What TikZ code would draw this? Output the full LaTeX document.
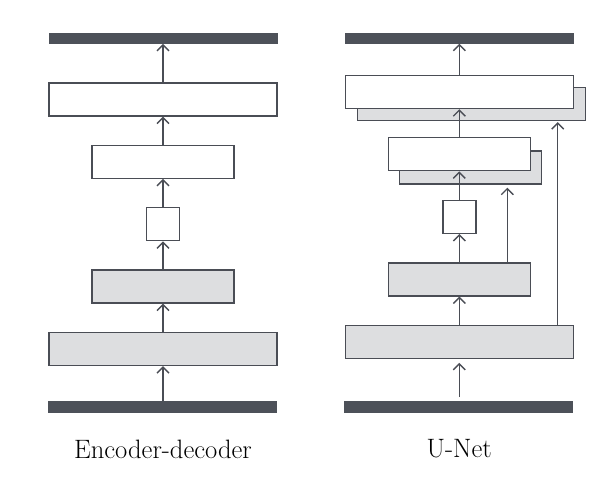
\documentclass[tikz,border=0pt]{standalone}
\usetikzlibrary{arrows.meta}
\definecolor{barcol}{HTML}{4D5159}
\definecolor{linecol}{HTML}{4A4D55}
\definecolor{grayfill}{HTML}{DDDEE0}
\begin{document}
\begin{tikzpicture}[x=1pt,y=-1pt,
  blk/.style={draw=linecol,line width=1.4pt,inner sep=0pt,minimum height=33pt},
  wide/.style={blk,minimum width=228pt},
  mid/.style={blk,minimum width=142pt},
  small/.style={blk,minimum width=33pt},
  wh/.style={fill=white},
  gr/.style={fill=grayfill},
  bar/.style={fill=barcol,draw=barcol,line width=0.5pt,inner sep=0pt,minimum width=228pt,minimum height=10.5pt},
  arr/.style={draw=linecol,line width=1.4pt,-{Straight Barb[length=6pt,width=12pt,line width=1.4pt]}},
  lab/.style={font=\fontsize{26.6}{32}\selectfont,text=black}]
\useasboundingbox (0,0) rectangle (605,480);
% ---------- Encoder-decoder ----------
\node[bar] (tbL) at (163,38.3) {};
\node[wide,wh] (L5) at (163,99.4) {};
\node[mid,wh] (L4) at (163,161.7) {};
\node[small,wh] (L3) at (163,224.2) {};
\node[mid,gr] (L2) at (163,286.4) {};
\node[wide,gr] (L1) at (163,349) {};
\node[bar] (bbL) at (162.5,406.7) {};
\draw[arr] (bbL.north -| L1) -- (L1.south);
\draw[arr] (L1.north) -- (L2.south);
\draw[arr] (L2.north) -- (L3.south);
\draw[arr] (L3.north) -- (L4.south);
\draw[arr] (L4.north) -- (L5.south);
\draw[arr] (L5.north) -- (tbL.south);
\node[lab] (labL) at (163,449) {Encoder-decoder};
% ---------- U-Net ----------
\node[bar] (tbR) at (459.3,38.3) {};
\node[wide,gr] (R5s) at (471.5,104) {};
\node[wide,wh] (R5) at (459.3,92) {};
\node[mid,gr] (R4s) at (470.6,167.5) {};
\node[mid,wh] (R4) at (459.3,154.2) {};
\node[small,wh] (R3) at (459.3,216.8) {};
\node[mid,gr] (R2) at (459.3,279.3) {};
\node[wide,gr] (R1) at (459.3,341.7) {};
\node[bar] (bbR) at (458.3,406.7) {};
\coordinate (skA) at (507.3,0);
\coordinate (skB) at (557.7,0);
\draw[arr,shorten <=4pt,shorten >=4pt] (bbR.north -| R1) -- (R1.south);
\draw[arr] (R1.north) -- (R2.south);
\draw[arr] (R2.north) -- (R3.south);
\draw[arr] (R3.north) -- (R4.south);
\draw[arr] (R4.north) -- (R5.south);
\draw[arr] (R5.north) -- (tbR.south);
\draw[arr,shorten >=3pt] (R2.north -| skA) -- (R4s.south -| skA);
\draw[arr,shorten >=1pt] (R1.north -| skB) -- (R5s.south -| skB);
\node[lab] (labR) at (459.3,449) {U-Net};
\end{tikzpicture}
\end{document}
